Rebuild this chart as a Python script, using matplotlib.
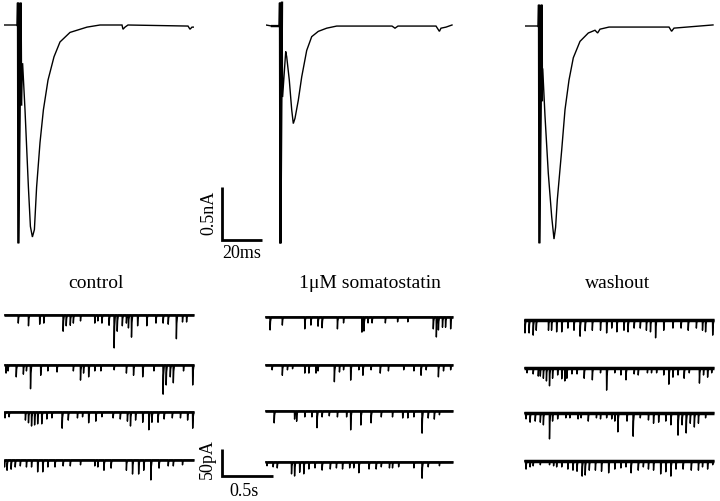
import matplotlib
matplotlib.use("Agg")
import matplotlib.pyplot as plt

W, H = 720, 501
plt.rcParams['font.family'] = ['Liberation Serif', 'DejaVu Serif']

# ---------------- evoked currents (time in ms, current in nA) ----------------
ctrl_t = [0, 6.8, 7.0, 7.2, 8.3, 8.6, 9.3, 10.5, 12.2, 13.2, 14.2, 15.2, 16.3, 18.0, 19.7,
          22.0, 25.0, 28.0, 33.0, 41.5, 48, 59, 59.5, 60.5, 62, 92, 93, 94, 95]
ctrl_i = [0, 0, 0.21, -2.06, 0.21, -0.75, -0.36, -0.80, -1.53, -1.90, -2.00, -1.93, -1.53,
          -1.11, -0.80, -0.52, -0.30, -0.16, -0.07, -0.02, 0.0, 0.0, -0.04, -0.02, 0.0,
          -0.01, -0.04, -0.02, -0.02]

sst_t = [0, 3, 6.8, 7.0, 7.2, 8.0, 8.3, 9.85, 10.35, 11.65, 12.85, 13.65, 14.5, 16.15,
         17.85, 20.35, 22.85, 26.15, 30.35, 35.35, 63, 64.5, 66, 85, 86.7, 87.5, 90, 93]
sst_i = [0, -0.01, -0.01, 0.21, -2.06, 0.21, -0.68, -0.25, -0.30, -0.52, -0.80, -0.93,
         -0.88, -0.71, -0.49, -0.24, -0.11, -0.06, -0.03, -0.01, -0.01, -0.03, -0.01,
         -0.01, -0.06, -0.03, -0.02, 0.0]

wash_t = [0, 6.8, 7.0, 7.2, 8.3, 8.5, 8.85, 10, 11.65, 13.35, 14.5, 15.3, 16.15, 18.35, 20,
          22, 24.15, 27.5, 31.65, 35, 36.3, 37.5, 42, 72, 73.3, 74.5, 94]
wash_i = [0, 0, 0.20, -2.05, 0.20, -0.70, -0.40, -0.85, -1.39, -1.80, -2.01, -1.90,
          -1.64, -1.17, -0.79, -0.51, -0.30, -0.145, -0.066, -0.04, -0.066, -0.03, -0.01,
          -0.01, -0.05, -0.02, 0.01]

# ---------------- spontaneous events (time in s, amplitude in pA) ----------------
c1_t = [0.14, 0.24, 0.35, 0.39, 0.58, 0.61, 0.65, 0.68, 0.75, 0.89, 0.92, 0.96, 1.03, 1.08,
        1.11, 1.16, 1.20, 1.22, 1.25, 1.31, 1.40, 1.49, 1.56, 1.61, 1.69, 1.75, 1.79]
c1_a = [15, 20, 17, 15, 30, 20, 19, 15, 11, 15, 11, 15, 19, 61, 30, 20, 15, 24, 41, 20, 20,
        15, 15, 17, 44, 13, 13]
c2_t = [0.02, 0.04, 0.12, 0.19, 0.22, 0.26, 0.36, 0.43, 0.52, 0.68, 0.75, 0.78, 0.83, 0.89,
        0.95, 1.08, 1.20, 1.27, 1.36, 1.47, 1.56, 1.59, 1.63, 1.66, 1.76, 1.85]
c2_a = [15, 11, 22, 17, 11, 44, 19, 11, 13, 11, 28, 15, 22, 11, 11, 9, 15, 19, 22, 11, 54,
        37, 22, 33, 11, 37]
c3_t = [0.01, 0.05, 0.21, 0.24, 0.27, 0.30, 0.33, 0.37, 0.42, 0.47, 0.57, 0.63, 0.72, 0.77,
        0.83, 0.90, 0.96, 1.07, 1.14, 1.21, 1.24, 1.29, 1.36, 1.42, 1.45, 1.51, 1.57, 1.65,
        1.73, 1.80, 1.85]
c3_a = [11, 9, 15, 20, 26, 24, 22, 22, 13, 11, 30, 15, 11, 9, 20, 17, 9, 11, 13, 17, 26, 15,
        19, 33, 19, 19, 13, 11, 11, 15, 30]
c4_t = [0.005, 0.03, 0.07, 0.11, 0.16, 0.22, 0.27, 0.33, 0.38, 0.43, 0.50, 0.58, 0.65, 0.75,
        0.89, 0.92, 0.98, 1.05, 1.20, 1.26, 1.32, 1.37, 1.44, 1.52, 1.61, 1.66, 1.75]
c4_a = [13, 19, 17, 13, 11, 13, 13, 22, 22, 13, 13, 11, 11, 9, 11, 13, 19, 15, 19, 26, 26,
        19, 37, 15, 11, 11, 9]

s1_t = [0.05, 0.17, 0.39, 0.45, 0.52, 0.56, 0.71, 0.77, 0.95, 0.97, 1.01, 1.05, 1.18, 1.30,
        1.40, 1.65, 1.68, 1.70, 1.74, 1.77, 1.82]
s1_a = [24, 15, 22, 15, 17, 20, 22, 11, 28, 26, 11, 11, 11, 9, 9, 22, 37, 24, 19, 19, 22]
s2_t = [0.07, 0.17, 0.22, 0.27, 0.39, 0.43, 0.50, 0.52, 0.68, 0.73, 0.77, 0.84, 0.92, 0.96,
        1.04, 1.13, 1.21, 1.36, 1.46, 1.53, 1.58, 1.70, 1.75, 1.82]
s2_a = [9, 19, 9, 7, 15, 15, 15, 11, 31, 13, 9, 28, 9, 19, 9, 15, 11, 9, 11, 19, 9, 22, 11, 9]
s3_t = [0.09, 0.29, 0.31, 0.39, 0.46, 0.51, 0.56, 0.63, 0.71, 0.80, 0.84, 0.94, 1.04, 1.14,
        1.25, 1.35, 1.40, 1.46, 1.54, 1.60, 1.66, 1.71]
s3_a = [22, 15, 19, 11, 11, 31, 11, 9, 11, 11, 35, 26, 22, 11, 11, 13, 13, 11, 41, 13, 15, 7]
s4_t = [0.02, 0.08, 0.12, 0.26, 0.29, 0.34, 0.38, 0.43, 0.49, 0.56, 0.64, 0.70, 0.76, 0.83,
        0.87, 0.92, 1.02, 1.09, 1.14, 1.22, 1.25, 1.31, 1.46, 1.54, 1.60, 1.71]
s4_a = [7, 9, 11, 22, 26, 19, 22, 13, 11, 15, 13, 11, 13, 11, 11, 20, 13, 13, 9, 11, 11, 9,
        11, 30, 9, 7]

w1_t = [0.01, 0.05, 0.09, 0.12, 0.24, 0.27, 0.32, 0.37, 0.43, 0.49, 0.55, 0.60, 0.67, 0.75,
        0.81, 0.86, 0.91, 0.98, 1.02, 1.08, 1.14, 1.20, 1.24, 1.29, 1.37, 1.46, 1.54, 1.61,
        1.69, 1.75, 1.78, 1.85]
w1_a = [24, 24, 28, 19, 19, 19, 22, 22, 15, 19, 30, 20, 19, 19, 24, 15, 22, 19, 22, 15, 15,
        19, 22, 33, 19, 15, 15, 19, 15, 19, 22, 28]
w2_t = [0.03, 0.09, 0.14, 0.16, 0.19, 0.22, 0.25, 0.28, 0.33, 0.37, 0.40, 0.42, 0.47, 0.52,
        0.59, 0.67, 0.75, 0.81, 0.89, 0.95, 1.00, 1.08, 1.12, 1.21, 1.25, 1.30, 1.37, 1.42,
        1.46, 1.51, 1.57, 1.62, 1.72, 1.76, 1.80, 1.84]
w2_a = [9, 11, 15, 15, 19, 24, 33, 19, 13, 20, 24, 19, 11, 11, 19, 22, 9, 41, 9, 13, 22, 11,
        13, 9, 9, 9, 13, 30, 17, 13, 19, 9, 28, 13, 17, 9]
w3_t = [0.02, 0.06, 0.11, 0.16, 0.19, 0.25, 0.28, 0.33, 0.41, 0.45, 0.53, 0.56, 0.63, 0.71,
        0.75, 0.81, 0.86, 0.89, 0.92, 1.01, 1.07, 1.14, 1.22, 1.27, 1.32, 1.39, 1.44, 1.51,
        1.55, 1.59, 1.63, 1.67, 1.71, 1.78]
w3_a = [11, 17, 15, 17, 22, 48, 15, 11, 9, 9, 11, 9, 15, 9, 11, 9, 11, 15, 35, 15, 43, 9, 13,
        19, 17, 15, 22, 41, 22, 37, 19, 26, 19, 9]
w4_t = [0.02, 0.06, 0.09, 0.16, 0.25, 0.29, 0.32, 0.37, 0.43, 0.48, 0.52, 0.57, 0.60, 0.64,
        0.70, 0.76, 0.83, 0.89, 0.95, 1.00, 1.05, 1.12, 1.17, 1.22, 1.27, 1.34, 1.39, 1.44,
        1.49, 1.56, 1.64, 1.71, 1.75, 1.80, 1.85]
w4_a = [15, 11, 9, 7, 7, 9, 11, 11, 15, 17, 19, 28, 26, 17, 17, 19, 22, 15, 13, 11, 22, 17,
        11, 15, 17, 24, 20, 28, 15, 15, 17, 17, 11, 15, 7]

titles = ["control", "1\u03bcM somatostatin", "washout"]

# ---------------- layout helpers ----------------
fig = plt.figure(figsize=(W / 100, H / 100), dpi=100)


def px_axes(left, top, width, height):
    ax = fig.add_axes([left / W, 1 - (top + height) / H, width / W, height / H])
    ax.set_axis_off()
    return ax


# top panels: 2 px per ms, 106 px per nA, baseline 25 px below the top
TOP_X = [4, 266, 525]
TOP_Y = [0, 0, 1]
top_sets = [(ctrl_t, ctrl_i), (sst_t, sst_i), (wash_t, wash_i)]
top_axes = []
for (tt, ii), x0, y0 in zip(top_sets, TOP_X, TOP_Y):
    ax = px_axes(x0, y0, 190, 250)
    ax.set_xlim(0, 95)
    ax.set_ylim(-225 / 106, 25 / 106)
    ax.plot(tt, ii, color='black', lw=1.0, solid_joinstyle='miter')
    # stimulus artifact drawn heavier (same data points)
    ax.plot(tt[1:6], ii[1:6], color='black', lw=1.7, solid_joinstyle='miter')
    top_axes.append(ax)

# top scale bar: 20 ms x 0.5 nA, drawn in the somatostatin panel's units
sb = top_axes[1]
sb_x0 = -22.0
sb_y0 = -2.03
sb.plot([sb_x0, sb_x0, sb_x0 + 20], [sb_y0 + 0.5, sb_y0, sb_y0], color='black', lw=2.0,
        clip_on=False, solid_capstyle='butt', solid_joinstyle='miter')

# bottom traces: 102 px per s, 0.54 px per pA
BOT_X = [4, 265, 524]
BOT_BASE = [[315, 365, 412, 460], [317, 365, 411, 462], [320, 368, 413, 461]]
DUR = [1.86, 1.84, 1.86]
bot_sets = [[(c1_t, c1_a), (c2_t, c2_a), (c3_t, c3_a), (c4_t, c4_a)],
            [(s1_t, s1_a), (s2_t, s2_a), (s3_t, s3_a), (s4_t, s4_a)],
            [(w1_t, w1_a), (w2_t, w2_a), (w3_t, w3_a), (w4_t, w4_a)]]
BASE_LW = [1.9, 1.9, 2.5]
PXS, PXPA = 102.0, 0.54
bot_axes = []
for p in range(3):
    col = []
    for k in range(4):
        tt, aa = bot_sets[p][k]
        base = BOT_BASE[p][k]
        ax = px_axes(BOT_X[p], base - 15 * PXPA, 1.9 * PXS, 90 * PXPA)
        ax.set_xlim(0, 1.9)
        ax.set_ylim(-75, 15)
        xs, ys = [0.0], [0.0]
        for t, a in zip(tt, aa):
            xs += [max(t - 0.002, 0), t, t + 0.004, t + 0.012]
            ys += [0, -a, -0.35 * a, 0]
        xs.append(DUR[p])
        ys.append(0)
        ax.plot([0, DUR[p]], [0, 0], color='black', lw=BASE_LW[p], solid_capstyle='butt')
        ax.plot(xs, ys, color='black', lw=1.0)
        col.append(ax)
    bot_axes.append(col)

# bottom scale bar: 0.5 s x 50 pA, in control trace 4 units
sb2 = bot_axes[0][3]
s2x = 2.137
s2y = -29.6
sb2.plot([s2x, s2x, s2x + 0.5], [s2y + 50, s2y, s2y], color='black', lw=2.0,
         clip_on=False, solid_capstyle='butt', solid_joinstyle='miter')


def ftext(x, y, s, **kw):
    fig.text(x / W, 1 - y / H, s, **kw)


ftext(209, 213, "0.5nA", rotation=90, ha='center', va='center', fontsize=13)
ftext(242, 253, "20ms", ha='center', va='center', fontsize=13)
ftext(207, 459, "50pA", rotation=90, ha='center', va='center', fontsize=13)
ftext(244, 491, "0.5s", ha='center', va='center', fontsize=13)

for s, cx in zip(titles, [96, 370, 618]):
    ftext(cx, 284, s, ha='center', va='center', fontsize=14)

fig.savefig("out.png", dpi=100)
